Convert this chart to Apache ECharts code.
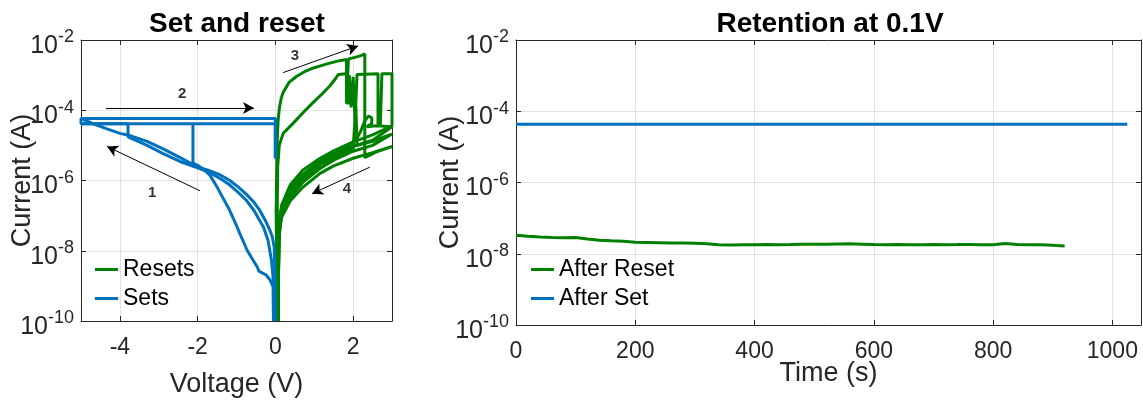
<!DOCTYPE html>
<html>
<head>
<meta charset="utf-8">
<script src="https://cdn.jsdelivr.net/npm/echarts@6/dist/echarts.min.js"></script>
<style>
  html, body { margin: 0; padding: 0; background: #ffffff; }
  #chart { width: 1143px; height: 403px; }
</style>
</head>
<body>
<div id="chart"></div>
<script>
// ---------- tick positions ----------
const voltageTicks = [-4, -2, 0, 2];
const timeTicks = [0, 200, 400, 600, 800, 1000];
const currentTicks = [1e-10, 1e-8, 1e-6, 1e-4, 1e-2];

// ---------- I-V sweeps: [voltage (V), current (A)] ----------
// Set sweeps (0 V -> -5 V -> 0 V)
const setSweep1 = [[-0.05,1e-10],[-0.06,9.5e-10],[-0.14,1.5e-9],[-0.25,2.1e-9],[-0.33,2.3e-9],[-0.38,2.1e-9],[-0.42,2.6e-9],[-0.47,3.5e-9],[-0.6,6e-9],[-0.73,1.05e-8],[-0.82,1.8e-8],[-0.91,3e-8],[-1.0,5.2e-8],[-1.09,8.7e-8],[-1.2,1.6e-7],[-1.35,3.2e-7],[-1.5,6.5e-7],[-1.68,1.4e-6],[-1.85,2.1e-6],[-2.0,2.7e-6],[-2.12,3.1e-6],[-2.12,4.1e-5],[-5,4.1e-5],[0,4.1e-5],[0,4.3e-6]];
const setSweep2 = [[-0.02,1e-10],[-0.04,1e-9],[-0.1,5.4e-9],[-0.19,2e-8],[-0.3,4.5e-8],[-0.4,7.2e-8],[-0.55,1.4e-7],[-0.73,2.6e-7],[-0.95,4.5e-7],[-1.17,7.4e-7],[-1.4,1.1e-6],[-1.7,1.7e-6],[-2.0,2.3e-6],[-2.4,3.3e-6],[-2.9,5.9e-6],[-3.3,1.0e-5],[-3.6,1.4e-5],[-3.79,1.75e-5],[-3.79,4.1e-5],[-5,4.1e-5],[-5,5.8e-5],[0,5.8e-5],[0,4.3e-6]];
const setSweep3 = [[0.0,1e-10],[-0.01,2e-9],[-0.03,1.26e-8],[-0.08,2.5e-8],[-0.14,3.8e-8],[-0.25,7e-8],[-0.4,1.4e-7],[-0.55,2.4e-7],[-0.73,3.9e-7],[-0.95,6.5e-7],[-1.17,1.0e-6],[-1.45,1.5e-6],[-1.75,2.0e-6],[-2.0,2.4e-6],[-2.4,4.2e-6],[-2.9,8.1e-6],[-3.3,1.3e-5],[-3.74,1.9e-5],[-4.0,2.2e-5],[-4.35,3.0e-5],[-4.7,4.2e-5],[-5,5.8e-5],[0,5.8e-5],[0,4.3e-6]];

// Reset sweeps (0 V -> 3 V -> 0 V)
const resetSweep1 = [[0.03,1e-10],[0.03,1e-8],[0.02,1.3e-7],[0.03,1e-6],[0.04,5e-6],[0.05,1.6e-5],[0.07,5e-5],[0.1,1.1e-4],[0.15,2.2e-4],[0.2,3.2e-4],[0.35,6.2e-4],[0.55,9.3e-4],[0.75,1.25e-3],[0.98,1.6e-3],[1.2,1.9e-3],[1.4,2.2e-3],[1.6,2.5e-3],[1.83,2.8e-3],[1.83,1.8e-4],[1.88,1.8e-4],[1.88,2.9e-3],[2.05,3.2e-3],[2.2,3.6e-3],[2.3,4.0e-3],[2.3,4.5e-6],[2.6,6.5e-6],[3.0,9.3e-6],[2.5,6.2e-6],[2.0,4.3e-6],[1.5,2.6e-6],[1.15,1.6e-6],[0.71,6.5e-7],[0.38,2.6e-7],[0.16,9e-8],[0.1,3e-8],[0.08,2e-9],[0.08,1e-10]];
const resetSweep2 = [[0.05,1e-10],[0.05,1e-8],[0.05,3e-7],[0.06,2.5e-6],[0.1,1.0e-5],[0.2,2.2e-5],[0.46,4.3e-5],[0.71,8.5e-5],[0.98,1.7e-4],[1.2,2.9e-4],[1.4,4.9e-4],[1.55,8e-4],[1.62,1.05e-3],[1.83,1.1e-3],[1.83,1.6e-4],[1.9,1.6e-4],[1.9,1.0e-3],[1.95,1.0e-3],[1.95,1.2e-4],[2.0,1.2e-4],[2.0,9e-4],[2.05,9e-4],[2.05,5e-5],[2.1,5e-5],[2.1,1.05e-3],[2.64,1.1e-3],[2.64,4e-5],[2.7,4e-5],[2.74,1.1e-3],[3.0,1.1e-3],[3.0,3.6e-5],[2.5,2.0e-5],[2.0,1.26e-5],[1.5,7e-6],[1.15,4.3e-6],[0.71,2e-6],[0.38,7.4e-7],[0.16,2e-7],[0.1,6e-8],[0.07,5e-9],[0.06,1e-10]];
const resetSweep3 = [[0.06,1e-10],[0.06,3e-9],[0.07,5e-8],[0.16,1.7e-7],[0.38,6e-7],[0.71,1.5e-6],[1.15,3.7e-6],[1.5,6e-6],[1.9,1.0e-5],[2.1,1.6e-5],[2.2,2.6e-5],[2.3,5e-5],[2.4,6.9e-5],[2.48,6e-5],[2.48,4.2e-5],[2.35,3.4e-5],[2.6,3.6e-5],[3.0,3.4e-5],[2.5,1.4e-5],[2.0,9.3e-6],[1.5,5.3e-6],[1.15,3.2e-6],[0.71,1.3e-6],[0.38,4.8e-7],[0.16,1.4e-7],[0.1,4e-8],[0.08,3e-9],[0.07,1e-10]];
const resetSweep4 = [[0.07,1e-10],[0.07,4e-9],[0.09,5e-8],[0.16,1.3e-7],[0.38,4.2e-7],[0.71,1.15e-6],[1.15,2.8e-6],[1.5,4.6e-6],[2.0,8e-6],[2.07,1.3e-4],[2.1,1.3e-4],[2.1,1.0e-5],[2.5,1.3e-5],[2.7,1.6e-5],[3.0,2.1e-5],[2.5,1.0e-5],[2.0,6.8e-6],[1.5,3.8e-6],[1.15,2.2e-6],[0.71,9e-7],[0.38,3.2e-7],[0.16,1.1e-7],[0.1,3e-8],[0.08,2e-9],[0.08,1e-10]];

// Sweep direction arrows [[from V, from I], [to V, to I]] and step numbers
const stepArrows = [
  [[-1.94, 5.1e-7], [-4.33, 9.3e-6]],
  [[-4.36, 1.15e-4], [-0.55, 1.15e-4]],
  [[0.2, 1.18e-3], [2.13, 6.8e-3]],
  [[2.43, 2.4e-6], [0.94, 4.2e-7]]
];
const stepNames = ['1', '2', '3', '4'];
const stepLabelPos = [[-3.17, 4.5e-7], [-2.4, 2.9e-4], [0.5, 3.55e-3], [1.84, 5.8e-7]];

// ---------- retention at 0.1 V ----------
const resetTime = [0,20,40,60,80,100,120,140,160,180,200,220,240,260,280,300,320,340,360,380,400,420,440,460,480,500,520,540,560,580,600,620,640,660,680,700,720,740,760,780,800,820,840,860,880,900,920];
const resetCurrent = [3.3e-8,3.1e-8,2.95e-8,2.85e-8,2.8e-8,2.85e-8,2.6e-8,2.4e-8,2.3e-8,2.25e-8,2.1e-8,2.08e-8,2.05e-8,2.0e-8,2.0e-8,1.98e-8,1.92e-8,1.78e-8,1.76e-8,1.78e-8,1.8e-8,1.83e-8,1.8e-8,1.82e-8,1.85e-8,1.84e-8,1.86e-8,1.88e-8,1.9e-8,1.86e-8,1.82e-8,1.8e-8,1.81e-8,1.79e-8,1.8e-8,1.82e-8,1.8e-8,1.81e-8,1.83e-8,1.8e-8,1.79e-8,1.95e-8,1.82e-8,1.8e-8,1.78e-8,1.74e-8,1.66e-8];
const setTime = [0, 200, 400, 600, 800, 1025];
const setCurrent = [4.3e-5, 4.3e-5, 4.3e-5, 4.3e-5, 4.3e-5, 4.3e-5];

// ---------- styling ----------
const GREEN = '#008000';
const BLUE = '#0072BD';
const AXIS = '#262626';
const GRIDLINE = '#e2e2e2';
const FONT = 'Liberation Sans, Arial, Helvetica, sans-serif';

function powerLabel(v) {
  const e = Math.round(Math.log10(v));
  return '{b|10}{s|' + e + '}';
}
const powerRich = {
  b: { fontSize: 25, lineHeight: 30, verticalAlign: 'bottom', color: AXIS, fontFamily: FONT },
  s: { fontSize: 18, lineHeight: 18, verticalAlign: 'top', color: AXIS, fontFamily: FONT }
};

function xAxes(gridIndex, min, max, ticks, name, nameGap) {
  return [
    {
      type: 'value', gridIndex, min, max, position: 'bottom',
      name, nameLocation: 'middle', nameGap, nameMoveOverlap: false,
      nameTextStyle: { fontSize: 27, color: AXIS, fontFamily: FONT },
      axisLine: { show: true, onZero: false, lineStyle: { color: AXIS, width: 1 } },
      axisTick: { show: true, inside: true, length: 5, customValues: ticks, lineStyle: { color: AXIS } },
      axisLabel: { customValues: ticks, formatter: v => String(v), fontSize: 23, color: AXIS, margin: 15, fontFamily: FONT },
      splitLine: { show: true, lineStyle: { color: GRIDLINE, width: 1 } }
    },
    {
      type: 'value', gridIndex, min, max, position: 'top',
      axisLine: { show: true, onZero: false, lineStyle: { color: AXIS, width: 1 } },
      axisTick: { show: true, inside: true, length: 5, customValues: ticks, lineStyle: { color: AXIS } },
      axisLabel: { show: false },
      splitLine: { show: false }
    }
  ];
}

function yAxes(gridIndex, name, nameGap) {
  return [
    {
      type: 'log', logBase: 10, gridIndex, min: 1e-10, max: 1e-2, position: 'left',
      name, nameLocation: 'middle', nameGap, nameMoveOverlap: false,
      nameTextStyle: { fontSize: 27, color: AXIS, fontFamily: FONT },
      axisLine: { show: true, onZero: false, lineStyle: { color: AXIS, width: 1 } },
      axisTick: { show: true, inside: true, length: 5, customValues: currentTicks, lineStyle: { color: AXIS } },
      axisLabel: { customValues: currentTicks, formatter: powerLabel, rich: powerRich, margin: 7, padding: [7, 0, 0, 0] },
      minorTick: { show: false },
      splitLine: { show: true, lineStyle: { color: GRIDLINE, width: 1 } }
    },
    {
      type: 'log', logBase: 10, gridIndex, min: 1e-10, max: 1e-2, position: 'right',
      axisLine: { show: true, onZero: false, lineStyle: { color: AXIS, width: 1 } },
      axisTick: { show: true, inside: true, length: 5, customValues: currentTicks, lineStyle: { color: AXIS } },
      axisLabel: { show: false },
      splitLine: { show: false }
    }
  ];
}

function sweep(name, data, color) {
  return {
    type: 'line', name, data, xAxisIndex: 0, yAxisIndex: 0,
    symbol: 'none', showSymbol: false, clip: true,
    lineStyle: { color, width: 3 }, itemStyle: { color }
  };
}

const series = [
  sweep('Resets', resetSweep1, GREEN),
  sweep('Resets', resetSweep2, GREEN),
  sweep('Resets', resetSweep3, GREEN),
  sweep('Resets', resetSweep4, GREEN),
  sweep('Sets', setSweep1, BLUE),
  sweep('Sets', setSweep2, BLUE),
  sweep('Sets', setSweep3, BLUE),
  {
    type: 'line', name: 'arrows', xAxisIndex: 0, yAxisIndex: 0, data: [],
    markLine: {
      silent: true, animation: false,
      symbol: ['none', 'arrow'], symbolSize: [9, 11],
      lineStyle: { color: '#000', width: 1, type: 'solid' },
      label: { show: false },
      data: stepArrows.map(a => [{ coord: a[0] }, { coord: a[1] }])
    }
  },
  {
    type: 'scatter', name: 'steps', xAxisIndex: 0, yAxisIndex: 0,
    symbolSize: 1, itemStyle: { color: 'rgba(0,0,0,0)' },
    data: stepNames.map((n, i) => ({ name: n, value: stepLabelPos[i] })),
    label: { show: true, position: 'inside', formatter: '{b}', fontSize: 15, fontWeight: 'bold', color: '#000', fontFamily: FONT }
  },
  {
    type: 'line', name: 'After Reset', xAxisIndex: 2, yAxisIndex: 2,
    data: resetTime.map((t, i) => [t, resetCurrent[i]]),
    symbol: 'none', showSymbol: false,
    lineStyle: { color: GREEN, width: 3 }, itemStyle: { color: GREEN }
  },
  {
    type: 'line', name: 'After Set', xAxisIndex: 2, yAxisIndex: 2,
    data: setTime.map((t, i) => [t, setCurrent[i]]),
    symbol: 'none', showSymbol: false,
    lineStyle: { color: BLUE, width: 3 }, itemStyle: { color: BLUE }
  }
];

const legendBase = {
  orient: 'vertical', icon: 'rect', itemWidth: 23, itemHeight: 3, itemGap: 6,
  padding: 0, selectedMode: false,
  textStyle: { fontSize: 23, color: '#000', fontFamily: FONT }
};

const option = {
  animation: false,
  backgroundColor: '#ffffff',
  textStyle: { fontFamily: FONT },
  title: [
    { text: 'Set and reset', left: 232, top: 5, textAlign: 'center',
      textStyle: { fontSize: 28, fontWeight: 'bold', color: '#000', fontFamily: FONT } },
    { text: 'Retention at 0.1V', left: 825, top: 5, textAlign: 'center',
      textStyle: { fontSize: 28, fontWeight: 'bold', color: '#000', fontFamily: FONT } }
  ],
  grid: [
    { left: 81, right: 751, top: 40, bottom: 78 },
    { left: 516, right: 2, top: 40, bottom: 78 }
  ],
  xAxis: [
    ...xAxes(0, -5, 3, voltageTicks, 'Voltage (V)', 50),
    ...xAxes(1, 0, 1048, timeTicks, 'Time (s)', 35)
  ],
  yAxis: [
    ...yAxes(0, 'Current (A)', 45),
    ...yAxes(1, 'Current (A)', 52)
  ],
  legend: [
    Object.assign({}, legendBase, { data: ['Resets', 'Sets'], left: 95, top: 258 }),
    Object.assign({}, legendBase, { data: ['After Reset', 'After Set'], left: 531, top: 258 })
  ],
  series
};

const chart = echarts.init(document.getElementById('chart'), null, { renderer: 'canvas' });
chart.setOption(option);
</script>
</body>
</html>
